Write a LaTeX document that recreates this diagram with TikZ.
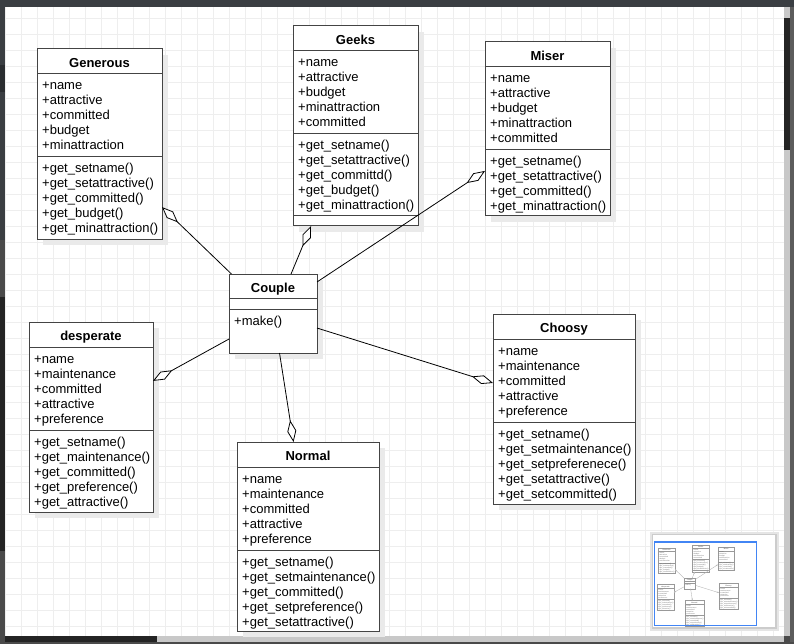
\documentclass[tikz,border=0pt]{standalone}
\usepackage{fontspec}
\setmainfont{Liberation Sans}
\usetikzlibrary{arrows.meta,calc}
\definecolor{topbar}{RGB}{58,62,66}
\definecolor{topbardark}{RGB}{42,45,48}
\definecolor{sidegray}{RGB}{74,74,74}
\definecolor{rightgray}{RGB}{92,92,92}
\definecolor{thumbdark}{RGB}{36,36,36}
\definecolor{track}{RGB}{200,200,200}
\definecolor{gridc}{RGB}{238,238,238}
\definecolor{edgec}{RGB}{68,68,68}
\definecolor{shadowc}{RGB}{234,234,234}
\definecolor{viewblue}{RGB}{66,133,244}

\tikzset{
  umlbox/.style={draw=edgec, line width=1pt, fill=white, inner sep=0pt, outer sep=0pt},
  sepline/.style={draw=edgec, line width=1pt},
  boxshadow/.style={fill=shadowc},
  conn/.style={draw=black, line width=0.8pt, -{Diamond[length=22pt, width=9pt, fill=white]}},
  member/.style={anchor=base west, inner sep=0pt, font=\fontsize{13}{15}\selectfont},
  umltitle/.style={anchor=base, inner sep=0pt, font=\fontsize{13}{15}\selectfont\bfseries},
}

% name, left, top, width, height, title, attributes, methods
\newcommand\umlclass[8]{%
  \fill[boxshadow] ({#2+6},{#3+6}) rectangle ({#2+#4+6},{#3+#5+6});
  \node[umlbox, minimum width=#4pt, minimum height=#5pt, anchor=north west] (#1) at (#2,#3) {};
  \node[umltitle] (#1-title) at ({#2+#4/2},{#3+18.5}) {#6};
  \draw[sepline] (#2,{#3+25}) -- ({#2+#4},{#3+25});
  \draw[sepline] (#2,{#3+108}) -- ({#2+#4},{#3+108});
  \foreach \mline [count=\i] in {#7} {\node[member] (#1-a\i) at ({#2+5},{#3+26+15*\i}) {\mline};}
  \foreach \mline [count=\i] in {#8} {\node[member] (#1-m\i) at ({#2+5},{#3+109+15*\i}) {\mline};}
}

\newcommand\drawdiagram{%
  % classes
  \umlclass{gen}{37}{49}{125}{190}{Generous}
    {+name,+attractive,+committed,+budget,+minattraction}
    {+get\_setname(),+get\_setattractive(),+get\_committed(),+get\_budget(),+get\_minattraction()}
  \umlclass{geeks}{293}{26}{125}{200}{Geeks}
    {+name,+attractive,+budget,+minattraction,+committed}
    {+get\_setname(),+get\_setattractive(),+get\_committd(),+get\_budget(),+get\_minattraction()}
  \draw[sepline] (293,216) -- (418,216);
  \umlclass{miser}{485}{42}{125}{174}{Miser}
    {+name,+attractive,+budget,+minattraction,+committed}
    {+get\_setname(),+get\_setattractive(),+get\_committed(),+get\_minattraction()}
  \umlclass{desp}{29}{322}{124}{190}{desperate}
    {+name,+maintenance,+committed,+attractive,+preference}
    {+get\_setname(),+get\_maintenance(),+get\_committed(),+get\_preference(),+get\_attractive()}
  \umlclass{normal}{237}{442}{142}{189}{Normal}
    {+name,+maintenance,+committed,+attractive,+preference}
    {+get\_setname(),+get\_setmaintenance(),+get\_committed(),+get\_setpreference(),+get\_setattractive()}
  \umlclass{choosy}{493}{314}{142}{190}{Choosy}
    {+name,+maintenance,+committed,+attractive,+preference}
    {+get\_setname(),+get\_setmaintenance(),+get\_setpreferenece(),+get\_setattractive(),+get\_setcommitted()}
  % Couple
  \fill[boxshadow] (235,280) rectangle (323,359);
  \node[umlbox, minimum width=88pt, minimum height=79pt, anchor=north west] (couple) at (229,274) {};
  \node[umltitle] (couple-title) at (273,292.5) {Couple};
  \draw[sepline] (229,298.5) -- (317,298.5);
  \draw[sepline] (229,309) -- (317,309);
  \node[member] (couple-m1) at (234,325) {+make()};
  % connectors (aggregation, diamond at the part class)
  \draw[conn] ($(couple.north west)!0.028!(couple.north east)$) -- ($(gen.north east)!0.832!(gen.south east)$);
  \draw[conn] ($(couple.north west)!0.705!(couple.north east)$) -- ($(geeks.south west)!0.144!(geeks.south east)$);
  \draw[conn] ($(couple.north east)!0.101!(couple.south east)$) -- ($(miser.north west)!0.741!(miser.south west)$);
  \draw[conn] ($(couple.north west)!0.823!(couple.south west)$) -- ($(desp.north east)!0.31!(desp.south east)$);
  \draw[conn] ($(couple.south west)!0.574!(couple.south east)$) -- ($(normal.north west)!0.398!(normal.north east)$);
  \draw[conn] ($(couple.north east)!0.684!(couple.south east)$) -- ($(choosy.north west)!0.363!(choosy.south west)$);
}

\begin{document}
\begin{tikzpicture}[x=1pt, y=-1pt]
  \useasboundingbox (0,0) rectangle (794,644);
  \fill[white] (0,0) rectangle (794,644);
  % grid
  \begin{scope}
    \clip (5,7) rectangle (784,636);
    \foreach \k in {0,...,48} {\draw[gridc, line width=1pt] ({5.5+16*\k},7) -- ({5.5+16*\k},636);}
    \foreach \k in {1,...,39} {\draw[gridc, line width=1pt] (5,{2.5+16*\k}) -- (784,{2.5+16*\k});}
  \end{scope}
  % editor frame
  \fill[topbar] (0,0) rectangle (794,7);
  \fill[topbar] (0,7) rectangle (5,240);
  \fill[topbardark] (0,65) rectangle (5,92);
  \fill[sidegray] (0,240) rectangle (5,644);
  \fill[thumbdark] (0,297) rectangle (5,551);
  \fill[track] (784,7) rectangle (790,636);
  \fill[thumbdark] (784,18) rectangle (790,150);
  \fill[rightgray] (790,7) rectangle (794,644);
  \fill[track] (5,636) rectangle (784,642);
  \fill[thumbdark] (5,636) rectangle (157,642);
  \fill[sidegray] (784,636) rectangle (790,642);
  \fill[sidegray] (0,642) rectangle (794,644);

  \drawdiagram

  % outline (minimap) panel
  \fill[black!10] (650,532) rectangle (779,631);
  \fill[black!20] (651.5,533.5) rectangle (777,629);
  \fill[white] (653,535) rectangle (775,627);
  \begin{scope}[name prefix=mini-, shift={(653.4,541.8)}, scale=0.133,
      every node/.append style={transform shape, text=black!55},
      umlbox/.style={draw=black!40, line width=0.35pt, fill=white, inner sep=0pt, outer sep=0pt},
      sepline/.style={draw=black!40, line width=0.35pt},
      boxshadow/.style={fill=black!7},
      conn/.style={draw=black!30, line width=0.35pt, -{Diamond[length=2.9pt, width=1.2pt, fill=white, line width=0.3pt]}}]
    \drawdiagram
  \end{scope}
  \draw[viewblue, line width=1.2pt] (654.3,542) rectangle (756.7,625.7);
\end{tikzpicture}
\end{document}
